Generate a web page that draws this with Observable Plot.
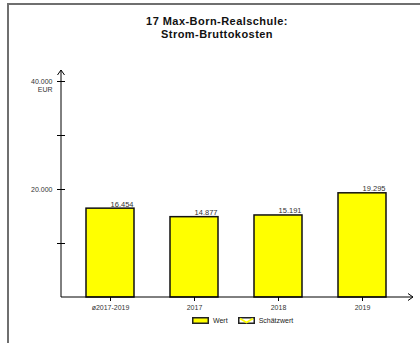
<!DOCTYPE html>
<html>
<head>
<meta charset="utf-8">
<script src="https://cdn.jsdelivr.net/npm/d3@7"></script>
<script src="https://cdn.jsdelivr.net/npm/@observablehq/plot@0.6"></script>
<style>
  html, body { margin: 0; padding: 0; background: #fff; overflow: hidden; width: 420px; height: 343px; }
  #wrap { position: fixed; left: 0; top: 0; z-index: 1000; background: #fff; width: 420px; height: 343px; overflow: hidden; font-family: "Liberation Sans", Arial, sans-serif; }
  #frame { position: absolute; left: 7px; top: 3px; width: 413px; height: 340px; border-top: 2px solid #6f6f6f; border-left: 2px solid #6f6f6f; box-sizing: border-box; }
  #title { position: absolute; top: 15px; left: 14px; width: 406px; text-align: center; font-weight: bold; font-size: 11px; letter-spacing: 0.45px; line-height: 12.5px; color: #111; }
  #title div { height: 12.5px; }
  #chart { position: absolute; top: 48px; left: 0; width: 420px; height: 266px; }
  #chart svg { display: block; }
  #legend { position: absolute; top: 317px; left: 192px; display: flex; align-items: center; font-size: 7px; color: #222; }
  #legend svg { display: block; margin-right: 4px; }
  #legend span { margin-right: 10px; }
</style>
</head>
<body>
<div id="wrap">
  <div id="frame"></div>
  <div id="title"></div>
  <div id="chart"></div>
  <div id="legend"></div>
</div>
<script>
// Data
const categories = ["ø2017-2019", "2017", "2018", "2019"];
const values = [16454, 14877, 15191, 19295];
const yTicks = [10000, 20000, 30000, 40000];
const yTickLabels = ["", "20.000", "", "40.000"];
const yUnit = "EUR";
const legendItems = ["Wert", "Schätzwert"];
const titleLines = ["17 Max-Born-Realschule:", "Strom-Bruttokosten"];

const de = d3.formatLocale({decimal: ",", thousands: ".", grouping: [3], currency: ["", " €"]});
const fmt = de.format(",d");

const data = categories.map((c, i) => ({cat: c, value: values[i]}));
const yMax = yTicks[yTicks.length - 1];

// Axis lines with arrowheads, drawn from the scales
function axesArrows(index, scales, values, dims) {
  const g = d3.create("svg:g").attr("fill", "none").attr("stroke", "#000").attr("stroke-width", 1);
  const ml = dims.marginLeft, xr = dims.width - dims.marginRight;
  const y0 = scales.y(0), yTop = scales.y(yMax) - 11;
  g.append("line").attr("x1", ml).attr("x2", ml).attr("y1", y0).attr("y2", yTop);
  g.append("path").attr("d", `M${ml - 3.5},${yTop + 5}L${ml},${yTop}L${ml + 3.5},${yTop + 5}`);
  g.append("line").attr("x1", ml).attr("x2", xr).attr("y1", y0).attr("y2", y0);
  g.append("path").attr("d", `M${xr - 5},${y0 - 3.5}L${xr},${y0}L${xr - 5},${y0 + 3.5}`);
  return g.node();
}

const chart = Plot.plot({
  width: 420,
  height: 266,
  marginTop: 33,
  marginBottom: 17,
  marginLeft: 61,
  marginRight: 7,
  style: {fontFamily: "Liberation Sans, Arial, sans-serif", fontSize: "7px", background: "transparent", color: "#333"},
  x: {domain: categories, range: [59, 412], paddingInner: 0.43, paddingOuter: 0.3, label: null},
  y: {domain: [0, yMax], label: null},
  marks: [
    Plot.barY(data, {x: "cat", y: "value", fill: "#ffff00", stroke: "#111", strokeWidth: 1.5}),
    Plot.text(data, {x: "cat", y: "value", text: d => fmt(d.value), textAnchor: "end", lineAnchor: "bottom", dx: 23, dy: -2, fill: "#333", fontSize: 7.5}),
    Plot.axisY({ticks: yTicks, tickSize: 8, dx: 4, tickPadding: 5, tickFormat: d => yTickLabels[yTicks.indexOf(d)], label: null, stroke: "#000", fill: "#333"}),
    Plot.text([yUnit], {frameAnchor: "left", y: [yMax], text: d => d, dx: -9, dy: 8, textAnchor: "end", fill: "#333"}),
    Plot.axisX({tickSize: 4, tickPadding: 4, label: null, stroke: "#000", fill: "#333"}),
    axesArrows
  ]
});
document.getElementById("chart").appendChild(chart);

// Title
const title = document.getElementById("title");
titleLines.forEach(line => {
  const d = document.createElement("div");
  d.textContent = line;
  title.appendChild(d);
});

// Legend
const legend = document.getElementById("legend");
legendItems.forEach((name, i) => {
  const s = d3.create("svg").attr("width", 17).attr("height", 7);
  s.append("rect").attr("x", 0.75).attr("y", 0.75).attr("width", 15.5).attr("height", 5.5)
    .attr("fill", i === 0 ? "#ffff00" : "#ffffff").attr("stroke", "#222").attr("stroke-width", 1.5);
  if (i === 1) {
    s.append("path").attr("d", "M2,1.5L8.5,5.5L15,1.5").attr("stroke", "#ffff00").attr("stroke-width", 1.5).attr("fill", "none");
  }
  legend.appendChild(s.node());
  const t = document.createElement("span");
  t.textContent = name;
  legend.appendChild(t);
});
</script>
</body>
</html>
